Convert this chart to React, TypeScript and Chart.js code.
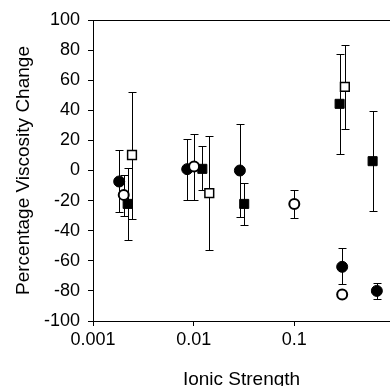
import React, { useEffect, useRef } from 'react';
import { Chart, registerables } from 'chart.js';

Chart.register(...registerables);

// Filled circles
const fcX = [0.00182, 0.00863, 0.0288, 0.299, 0.661];
const fcY = [-7.3, 0.9, 0, -64, -80];
const fcLo = [-27.6, -19.5, -30.7, -75.7, -85.5];
const fcHi = [13.3, 21, 31, -51.7, -75];

// Open circles
const ocX = [0.00202, 0.0101, 0.1, 0.299];
const ocY = [-16.2, 2.7, -22.2, -82.4];
const ocLo = [-30.2, -19.5, -31.8, -82.4];
const ocHi = [-2.9, 24, -12.9, -82.4];

// Filled squares
const fsX = [0.00221, 0.0122, 0.0318, 0.282, 0.6];
const fsY = [-22.2, 1.1, -22.2, 44.3, 6.2];
const fsLo = [-46.2, -13, -36, 10.9, -26.9];
const fsHi = [1.6, 16, -8, 77.6, 39.3];

// Open squares
const osX = [0.00244, 0.0143, 0.318];
const osY = [10.3, -15, 55.6];
const osLo = [-32.4, -53, 27.8];
const osHi = [52.3, 22.7, 83.3];

const xTicks = [0.001, 0.01, 0.1];
const xMin = 0.001;
const xMax = 0.893;
const yMin = -100;
const yMax = 100;
const yStep = 20;

const xTitle = 'Ionic Strength';
const yTitle = 'Percentage Viscosity Change';

const FONT = 'Arial, "Liberation Sans", sans-serif';

function pts(xs: number[], ys: number[], lo: number[], hi: number[]) {
  return xs.map((x, i) => ({ x, y: ys[i], lo: lo[i], hi: hi[i] }));
}

const errorBarPlugin = {
  id: 'errorBars',
  beforeDatasetsDraw(chart: any) {
    const { ctx, scales } = chart;
    const xs = scales.x;
    const ys = scales.y;
    ctx.save();
    ctx.strokeStyle = '#000';
    ctx.lineWidth = 1;
    const cap = 4;
    chart.data.datasets.forEach((ds: any) => {
      ds.data.forEach((p: any) => {
        if (p.lo === p.hi) return;
        const px = Math.round(xs.getPixelForValue(p.x)) + 0.5;
        const pl = Math.round(ys.getPixelForValue(p.lo)) + 0.5;
        const ph = Math.round(ys.getPixelForValue(p.hi)) + 0.5;
        ctx.beginPath();
        ctx.moveTo(px, pl);
        ctx.lineTo(px, ph);
        ctx.moveTo(px - cap, pl);
        ctx.lineTo(px + cap, pl);
        ctx.moveTo(px - cap, ph);
        ctx.lineTo(px + cap, ph);
        ctx.stroke();
      });
    });
    ctx.restore();
  },
};

export default function App() {
  const ref = useRef<HTMLCanvasElement | null>(null);

  useEffect(() => {
    if (!ref.current) return;
    const chart = new Chart(ref.current, {
      type: 'scatter',
      data: {
        datasets: [
          {
            label: 'open circles',
            data: pts(ocX, ocY, ocLo, ocHi),
            pointStyle: 'circle',
            pointRadius: 5,
            pointBackgroundColor: '#fff',
            pointBorderColor: '#000',
            pointBorderWidth: 2,
          },
          {
            label: 'filled circles',
            data: pts(fcX, fcY, fcLo, fcHi),
            pointStyle: 'circle',
            pointRadius: 5.5,
            pointBackgroundColor: '#000',
            pointBorderColor: '#000',
            pointBorderWidth: 1,
          },
          {
            label: 'open squares',
            data: pts(osX, osY, osLo, osHi),
            pointStyle: 'rect',
            pointRadius: 6.2,
            pointBackgroundColor: '#fff',
            pointBorderColor: '#000',
            pointBorderWidth: 1.5,
          },
          {
            label: 'filled squares',
            data: pts(fsX, fsY, fsLo, fsHi),
            pointStyle: 'rect',
            pointRadius: 6.4,
            pointBackgroundColor: '#000',
            pointBorderColor: '#000',
            pointBorderWidth: 1,
          },
        ] as any,
      },
      options: {
        animation: false,
        responsive: false,
        devicePixelRatio: 1,
        layout: { autoPadding: false, padding: { top: 20, right: 0, bottom: 0, left: 0 } },
        plugins: {
          legend: { display: false },
          tooltip: { enabled: false },
        },
        scales: {
          x: {
            type: 'logarithmic',
            min: xMin,
            max: xMax,
            afterBuildTicks: (scale: any) => {
              scale.ticks = xTicks.map((v) => ({ value: v }));
            },
            afterFit: (scale: any) => {
              scale.height = 65;
              scale.paddingRight = 0;
              scale.paddingLeft = 0;
            },
            ticks: {
              autoSkip: false,
              maxRotation: 0,
              color: '#000',
              font: { family: FONT, size: 18 },
              padding: 3,
              callback: (v: any) => String(v),
            },
            grid: {
              drawOnChartArea: false,
              color: '#000',
              tickColor: '#000',
              tickLength: 5,
            },
            border: { display: true, color: '#000', width: 1 },
            title: {
              display: true,
              text: xTitle,
              color: '#000',
              font: { family: FONT, size: 19 },
              padding: { top: 0, bottom: -5 },
            },
          },
          y: {
            type: 'linear',
            min: yMin,
            max: yMax,
            afterFit: (scale: any) => {
              scale.width = 93;
              scale.paddingTop = 0;
              scale.paddingBottom = 0;
            },
            ticks: {
              stepSize: yStep,
              color: '#000',
              font: { family: FONT, size: 18 },
              padding: 8,
            },
            grid: {
              drawOnChartArea: true,
              color: (ctx: any) => (ctx.tick && ctx.tick.value === yMax ? '#000' : 'rgba(0,0,0,0)'),
              tickColor: '#000',
              tickLength: 5,
            },
            border: { display: true, color: '#000', width: 1 },
            title: {
              display: true,
              text: yTitle,
              color: '#000',
              font: { family: FONT, size: 19 },
              padding: { top: 12, bottom: 0 },
            },
          },
        },
      } as any,
      plugins: [errorBarPlugin],
    });
    return () => chart.destroy();
  }, []);

  return (
    <canvas
      ref={ref}
      width={390}
      height={386}
      style={{ position: 'absolute', left: 0, top: 0, width: 390, height: 386 }}
    />
  );
}
